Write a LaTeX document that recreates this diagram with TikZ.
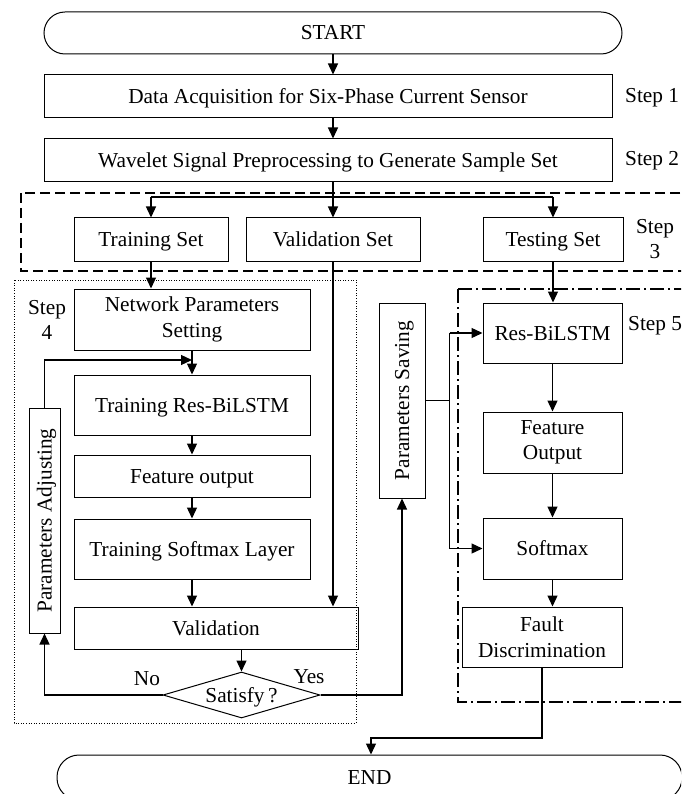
\documentclass[tikz,border=0pt]{standalone}
\usepackage{fontspec}
\setmainfont{Liberation Serif}
\usetikzlibrary{arrows.meta,shapes.geometric}
\begin{document}
\begin{tikzpicture}[x=1pt,y=-1pt,
  font=\fontsize{21.3}{25.5}\selectfont,
  box/.style={draw, line width=1pt, rectangle, inner sep=0pt, align=center},
  oneline/.style={text height=15pt, text depth=1pt},
  term/.style={draw, line width=1pt, rectangle, inner sep=0pt, oneline},
  decision/.style={draw, line width=1pt, diamond, aspect=3.4, inner sep=0pt},
  steplabel/.style={inner sep=0pt, align=center},
  conn/.style={line width=1.3pt},
  arr/.style={conn, -{Triangle[length=11pt,width=10pt]}},
  groupdash/.style={line width=1.1pt, dash pattern=on 10pt off 5pt},
  groupdot/.style={line width=1pt, dash pattern=on 1pt off 1.6pt},
  groupdashdot/.style={line width=1.1pt, dash pattern=on 14pt off 4pt on 2pt off 4pt}]
\useasboundingbox (0,0) rectangle (681,794);
\clip (0,0) rectangle (681,794);

% group frames
\draw[groupdash] (21,193) rectangle (700,271);
\draw[groupdot] (14,280) rectangle (356,723);
\draw[groupdashdot] (458,289) rectangle (700,702);

% main column
\node[term, rounded corners=21pt, minimum width=578, minimum height=42] (start) at (333,33) {START};
\node[box, oneline, minimum width=568, minimum height=43] (acq) at (328,96.5) {Data Acquisition for Six-Phase Current Sensor};
\node[box, oneline, minimum width=568, minimum height=43] (prep) at (328,160.5) {Wavelet Signal Preprocessing to Generate Sample Set};

% data sets
\node[box, oneline, minimum width=154, minimum height=43] (trainset) at (151,239.5) {Training Set};
\node[box, oneline, minimum width=174, minimum height=43] (valset) at (333,239.5) {Validation Set};
\node[box, oneline, minimum width=140, minimum height=43] (testset) at (553,239.5) {Testing Set};

% training branch
\node[box, minimum width=236, minimum height=61] (nps) at (192,319.5) {Network Parameters\\Setting};
\node[box, oneline, minimum width=236, minimum height=60] (trb) at (192,405) {Training Res-BiLSTM};
\node[box, oneline, minimum width=236, minimum height=42] (feat) at (192,476) {Feature output};
\node[box, oneline, minimum width=236, minimum height=60] (tsl) at (192,549) {Training Softmax Layer};
\node[box, oneline, minimum width=284, minimum height=42] (val) at (216,628) {Validation};
\node[decision, oneline, minimum width=157, minimum height=46] (sat) at (241.5,695) {Satisfy\,?};
\node[box, oneline, rotate=90, minimum width=225, minimum height=31] (adj) at (44.5,520.5) {Parameters Adjusting};
\node[box, oneline, rotate=90, minimum width=195, minimum height=46] (save) at (402,400.5) {Parameters Saving};

% testing branch
\node[box, oneline, minimum width=139, minimum height=60] (rbl) at (552.5,333) {Res-BiLSTM};
\node[box, minimum width=139, minimum height=61] (fo) at (552.5,442.5) {Feature\\Output};
\node[box, oneline, minimum width=139, minimum height=61] (smx) at (552.5,548.5) {Softmax};
\node[box, minimum width=160, minimum height=60] (fd) at (542,637) {Fault\\Discrimination};

\node[term, rounded corners=22pt, minimum width=625, minimum height=45] (end) at (369.5,777.5) {END};

% step labels
\node[steplabel, anchor=west] (s1) at (625,98) {Step 1};
\node[steplabel, anchor=west] (s2) at (625,161) {Step 2};
\node[steplabel] (s3) at (655,239) {Step\\3};
\node[steplabel] (s4) at (47,320) {Step\\4};
\node[steplabel, anchor=west] (s5) at (628,326) {Step 5};
\node[inner sep=0pt] (no) at (147,679) {No};
\node[inner sep=0pt] (yes) at (309,677) {Yes};

% connectors
\coordinate (dist) at (333,197);
\coordinate (fb) at (192,360);
\coordinate (fe) at (371,738);

\draw[arr] (start.south) -- (start.south |- acq.north);
\draw[arr] (start.south |- acq.south) -- (start.south |- prep.north);
\draw[arr] (valset.north |- prep.south) -- (valset.north);
\draw[conn] (trainset.north |- dist) -- (testset.north |- dist);
\draw[arr] (trainset.north |- dist) -- (trainset.north);
\draw[arr] (testset.north |- dist) -- (testset.north);

\draw[arr] (trainset.south) -- (trainset.south |- nps.north);
\draw[arr] (nps.south) -- (trb.north);
\draw[arr] (adj.east) |- (fb);
\draw[arr] (trb.south) -- (feat.north);
\draw[arr] (feat.south) -- (tsl.north);
\draw[arr] (tsl.south) -- (tsl.south |- val.north);
\draw[arr] (valset.south) -- (valset.south |- val.north);
\draw[arr] (val.south -| sat.north) -- (sat.north);
\draw[arr] (sat.west) -| (adj.west);
\draw[arr] (sat.east) -| (save.west);

\draw[conn] (save.south) -- ++(24,0) coordinate (bus);
\draw[conn] (bus |- rbl.west) -- (bus |- smx.west);
\draw[arr] (bus |- rbl.west) -- (rbl.west);
\draw[arr] (bus |- smx.west) -- (smx.west);

\draw[arr] (testset.south) -- (testset.south |- rbl.north);
\draw[arr] (rbl.south) -- (fo.north);
\draw[arr] (fo.south) -- (smx.north);
\draw[arr] (smx.south) -- (smx.south |- fd.north);
\draw[arr] (fd.south) |- (fe) -- (fe |- end.north);
\end{tikzpicture}
\end{document}
